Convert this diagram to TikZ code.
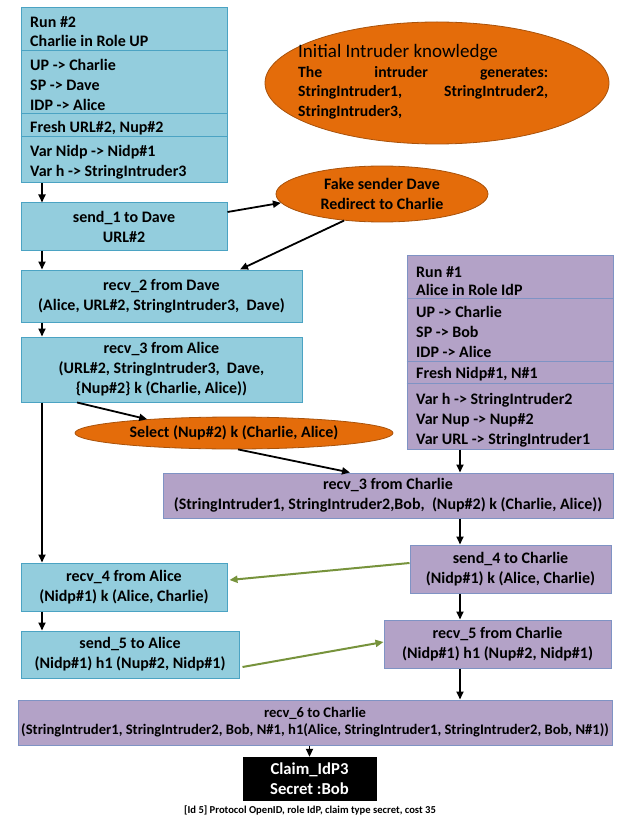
\documentclass[tikz,border=0pt]{standalone}
\usepackage{fontspec}
\setmainfont{Carlito}
\usetikzlibrary{arrows.meta,calc,shapes.geometric}

\definecolor{boxblue}{HTML}{93CDDD}
\definecolor{lineblue}{HTML}{4BA3C3}
\definecolor{boxpurple}{HTML}{B3A2C7}
\definecolor{linepurple}{HTML}{7F93C4}
\definecolor{fillorange}{HTML}{E46C0A}
\definecolor{lineorange}{HTML}{A9520A}
\definecolor{arrowgreen}{HTML}{77933C}

\tikzset{
  txt/.style={font=\bfseries\fontsize{16}{20}\selectfont},
  bluebox/.style={rectangle, draw=lineblue, fill=boxblue, line width=1pt,
    inner sep=0pt, align=center, txt},
  purplebox/.style={rectangle, draw=linepurple, fill=boxpurple, line width=1pt,
    inner sep=0pt, align=center, txt},
  orangeell/.style={ellipse, draw=lineorange, fill=fillorange, line width=0.8pt,
    inner sep=0pt},
  linetext/.style={anchor=base west, inner sep=0pt, txt},
  knowtext/.style={anchor=base west, inner sep=0pt, font=\bfseries\fontsize{15.7}{19}\selectfont},
  flow/.style={-{Triangle[length=8pt,width=7pt]}, line width=1.8pt, black},
  greenflow/.style={-{Triangle[length=8pt,width=7pt]}, line width=2pt, arrowgreen},
}

\begin{document}
\begin{tikzpicture}[x=1pt,y=-1pt]
\useasboundingbox (0,0) rectangle (617,818);

% ---------- Run #2 (Charlie as UP) ----------
\node[bluebox, minimum width=206pt, minimum height=175pt] (run2) at (124,95.5) {};
\foreach \d in {43,106,129}
  \draw[lineblue, line width=1pt] ($(run2.north west)+(0,\d)$) -- ($(run2.north east)+(0,\d)$);
\node[linetext] (r2l1) at (30,28) {Run \#2};
\node[linetext] (r2l2) at (30,47) {Charlie in Role UP};
\node[linetext] (r2l3) at (30,71) {UP -> Charlie};
\node[linetext] (r2l4) at (30,91) {SP -> Dave};
\node[linetext] (r2l5) at (30,111) {IDP -> Alice};
\node[linetext] (r2l6) at (30,133) {Fresh URL\#2, Nup\#2};
\node[linetext] (r2l7) at (30,157) {Var Nidp -> Nidp\#1};
\node[linetext] (r2l8) at (30,177) {Var h -> StringIntruder3};

% ---------- intruder knowledge ----------
\node[orangeell, minimum width=344pt, minimum height=122pt] (know) at (437,83) {};
\node[anchor=base west, inner sep=0pt, font=\fontsize{19}{22}\selectfont] (knowt) at (298,58) {Initial Intruder knowledge};
\node[knowtext] (knowa) at (298,77.5)
  {\makebox[250pt][l]{The\hfill intruder\hfill generates:}};
\node[knowtext] (knowb) at (298,97)
  {\makebox[250pt][l]{StringIntruder1,\hfill StringIntruder2,}};
\node[knowtext] (knowc) at (298,117)
  {StringIntruder3,};

% ---------- left column (Run #2 events) ----------
\node[bluebox, minimum width=206pt, minimum height=47pt] (send1) at (124,226.5) {send\_1 to Dave\\URL\#2};
\node[bluebox, minimum width=281pt, minimum height=52pt] (recv2) at (161.5,296)
  {recv\_2 from Dave\\(Alice, URL\#2, StringIntruder3,\ \ Dave)};
\node[bluebox, minimum width=281pt, minimum height=65pt] (recv3a) at (161.5,369.5)
  {recv\_3 from Alice\\(URL\#2, StringIntruder3,\ \ Dave,\\\{Nup\#2\} k (Charlie, Alice))};
\node[bluebox, minimum width=206pt, minimum height=48pt] (recv4) at (124,587)
  {recv\_4 from Alice\\(Nidp\#1) k (Alice, Charlie)};
\node[bluebox, minimum width=218pt, minimum height=47pt] (send5) at (130,654.5)
  {send\_5 to Alice\\(Nidp\#1) h1 (Nup\#2, Nidp\#1)};

% ---------- intruder actions ----------
\node[orangeell, minimum width=212pt, minimum height=56pt] (fake) at (382,194) {};
\node[align=center, inner sep=0pt, txt] (faket) at (fake.center) {Fake sender Dave\\Redirect to Charlie};
\node[orangeell, minimum width=318pt, minimum height=32pt] (select) at (234,433) {};
\node[inner sep=0pt, txt] (selectt) at (select.center) {Select (Nup\#2) k (Charlie, Alice)};

% ---------- Run #1 (Alice as IdP) ----------
\node[purplebox, minimum width=206pt, minimum height=194pt] (run1) at (510,352) {};
\foreach \d in {44,107,129}
  \draw[linepurple, line width=1pt] ($(run1.north west)+(0,\d)$) -- ($(run1.north east)+(0,\d)$);
\node[linetext] (r1l1) at (416,277.5) {Run \#1};
\node[linetext] (r1l2) at (416,295) {Alice in Role IdP};
\node[linetext] (r1l3) at (416,317.5) {UP -> Charlie};
\node[linetext] (r1l4) at (416,337.5) {SP -> Bob};
\node[linetext] (r1l5) at (416,357.5) {IDP -> Alice};
\node[linetext] (r1l6) at (416,378.5) {Fresh Nidp\#1, N\#1};
\node[linetext] (r1l7) at (416,404) {Var h -> StringIntruder2};
\node[linetext] (r1l8) at (416,424.5) {Var Nup -> Nup\#2};
\node[linetext] (r1l9) at (416,444) {Var URL -> StringIntruder1};

% ---------- right column (Run #1 events) ----------
\node[purplebox, minimum width=450pt, minimum height=45pt] (recv3c) at (388,495.5)
  {recv\_3 from Charlie\\(StringIntruder1, StringIntruder2,Bob,\ \ (Nup\#2) k (Charlie, Alice))};
\node[purplebox, minimum width=201pt, minimum height=48pt] (send4) at (510.5,569)
  {send\_4 to Charlie\\(Nidp\#1) k (Alice, Charlie)};
\node[purplebox, minimum width=227pt, minimum height=48pt] (recv5) at (497.5,644)
  {recv\_5 from Charlie\\(Nidp\#1) h1 (Nup\#2, Nidp\#1)};
\node[purplebox, minimum width=594pt, minimum height=45pt, font=\bfseries\fontsize{14.6}{17}\selectfont] (recv6) at (315,722.5)
  {recv\_6 to Charlie\\(StringIntruder1, StringIntruder2, Bob, N\#1, h1(Alice, StringIntruder1, StringIntruder2, Bob, N\#1))};

% ---------- claim ----------
\node[rectangle, fill=black, draw=black, text=white, inner sep=0pt, align=center,
  minimum width=133pt, minimum height=43pt, font=\bfseries\fontsize{16.7}{20}\selectfont] (claim) at (309.5,778.5)
  {Claim\_IdP3\\Secret :Bob};
\node[inner sep=0pt, font=\bfseries\fontsize{10.6}{12}\selectfont] (caption) at (310,810)
  {[Id 5] Protocol OpenID, role IdP, claim type secret, cost 35};

% ---------- connectors ----------
\coordinate (lx) at (42,0);
\coordinate (rx) at (460,0);
\draw[flow] (run2.south -| lx) -- (send1.north -| lx);
\draw[flow] (send1.south -| lx) -- (recv2.north -| lx);
\draw[flow] (recv2.south -| lx) -- (recv3a.north -| lx);
\draw[flow] (recv3a.south -| lx) -- (recv4.north -| lx);
\draw[flow] (recv4.south -| lx) -- (send5.north -| lx);

\draw[flow] ([yshift=14.5pt]send1.east) -- (fake.185);
\draw[flow] (fake.215) -- ([xshift=78.5pt]recv2.north);
\draw[flow] ([xshift=-84.5pt]recv3a.south) -- (select.171);
\draw[flow] ([xshift=4pt]select.south) -- ([xshift=-38pt]recv3c.north);

\draw[flow] (run1.south -| rx) -- (recv3c.north -| rx);
\draw[flow] (recv3c.south -| rx) -- (send4.north -| rx);
\draw[flow] (send4.south -| rx) -- (recv5.north -| rx);
\draw[flow] (recv5.south -| rx) -- (recv6.north -| rx);
\draw[flow] (recv6.south -| claim.north) -- (claim.north);

\draw[greenflow] ([yshift=6pt]send4.west) -- ([xshift=2pt,yshift=7pt]recv4.east);
\draw[greenflow] ([xshift=3pt,yshift=-12.5pt]send5.east) -- ([yshift=2pt]recv5.west);
\end{tikzpicture}
\end{document}
